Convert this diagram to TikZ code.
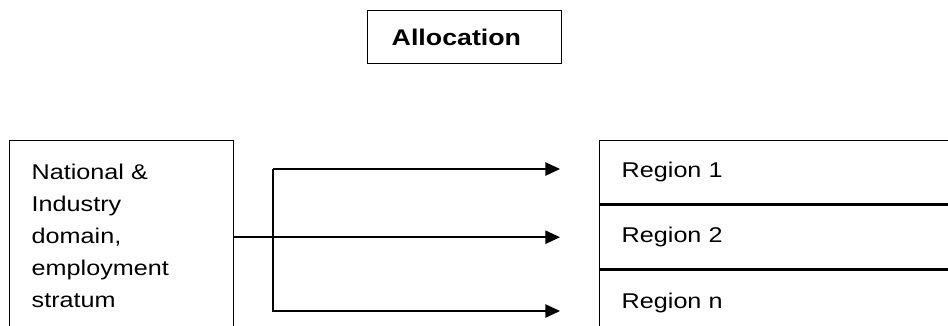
\documentclass[tikz,border=0pt]{standalone}
\usepackage{fontspec}
\setmainfont{Liberation Sans}[FakeStretch=1.18]
\usetikzlibrary{arrows.meta}
\begin{document}
\begin{tikzpicture}[x=0.75pt,y=-0.75pt,line width=1.1pt,
  box/.style={draw,anchor=north west,align=left,inner sep=0pt,
    font=\fontsize{16}{24}\selectfont},
  region/.style={box,minimum width=300pt,text width=267pt,minimum height=48pt},
  feed/.style={-{Triangle[length=11pt,width=10pt]}}]
  \useasboundingbox (0,0) rectangle (948,325);
  \clip (0,0) rectangle (948,325);
  \node[box,minimum width=145.5pt,minimum height=39.75pt,text width=109.5pt,
    font=\fontsize{17}{20}\selectfont\bfseries] (alloc) at (367,10) {Allocation};
  \node[box,minimum width=168pt,minimum height=144pt] (src) at (9,140) {};
  \node[box,draw=none] (srctext) at ([xshift=16.5pt,yshift=-17.25pt]src.north west)
    {National \&\\Industry\\domain,\\employment\\stratum};
  \node[region,minimum height=47.25pt] (r1) at (599,140) {Region 1};
  \node[region] (r2) at (r1.south west) {Region 2};
  \node[region] (r3) at (r2.south west) {Region n};
  \coordinate (fork) at (273,169);
  \coordinate (tip) at (560,169);
  \coordinate (low) at (560,311);
  \draw[feed] (src.east |- r2.west) -- (tip |- r2.west);
  \draw[feed] (fork) -- (tip);
  \draw[feed] (fork) |- (low);
\end{tikzpicture}
\end{document}
